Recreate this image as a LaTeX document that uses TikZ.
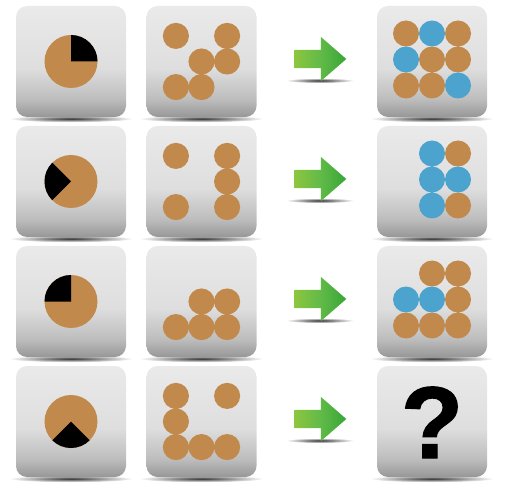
\documentclass[tikz,border=0pt]{standalone}
\usepackage{fontspec}
\newfontfamily\qfont{Liberation Sans}[BoldFeatures={FakeBold=1.2}]
\usetikzlibrary{shapes.arrows,backgrounds}
\definecolor{brn}{HTML}{C1894B}
\definecolor{blu}{HTML}{4CA4CE}
\definecolor{ttop}{HTML}{EAEAEA}
\definecolor{tmid}{HTML}{DEDEDE}
\definecolor{tlow}{HTML}{BDBDBD}
\definecolor{tbot}{HTML}{979797}
\definecolor{agl}{HTML}{8DC63F}
\definecolor{agm}{HTML}{62BA48}
\definecolor{agr}{HTML}{37A636}
\pgfdeclareverticalshading{tileshade}{100bp}{color(0bp)=(tbot); color(25bp)=(tbot); color(33bp)=(tlow); color(47bp)=(tmid); color(75bp)=(ttop); color(100bp)=(ttop)}
\begin{document}
\begin{tikzpicture}[x=1pt,y=1pt,
        tile/.style={rectangle,rounded corners=11pt,minimum width=110pt,minimum height=111pt,inner sep=0pt,shade,shading=tileshade},
        nxt/.style={single arrow,single arrow head extend=13pt,single arrow tip angle=82,minimum height=52pt,inner xsep=0pt,inner ysep=9pt,left color=agl,right color=agr,middle color=agm},
        dropshade/.style={inner color=black!80,outer color=white}]
\useasboundingbox (0,0) rectangle (508,493);
\node[tile] (p1) at (71,431.5) {};\node[tile] (d1) at (201.5,431.5) {};\node[nxt] (a1) at (315,434) {};\node[tile] (r1) at (432,431.5) {};
\node[tile] (p2) at (71,311.5) {};\node[tile] (d2) at (201.5,311.5) {};\node[nxt] (a2) at (315,314) {};\node[tile] (r2) at (432,311.5) {};
\node[tile] (p3) at (71,191.5) {};\node[tile] (d3) at (201.5,191.5) {};\node[nxt] (a3) at (315,194) {};\node[tile] (r3) at (432,191.5) {};
\node[tile] (p4) at (71,71.5) {};\node[tile] (d4) at (201.5,71.5) {};\node[nxt] (a4) at (315,74) {};\node[tile] (r4) at (432,71.5) {};
\begin{scope}[on background layer]
        \foreach \t in {p1,d1,r1,p2,d2,r2,p3,d3,r3,p4,d4,r4} \shade[dropshade] ([yshift=-1.5pt]\t.south) ellipse (62 and 3.5);
        \foreach \t in {a1,a2,a3,a4} \shade[dropshade] ([xshift=5pt,yshift=-21.5pt]\t.center) ellipse (34 and 2.5);
\end{scope}
\begin{scope}[shift={(p1)}]\fill[brn] (0,0) circle (26.5);\fill (0,0) -- (0:26.5) arc (0:90:26.5) -- cycle;\end{scope}
\begin{scope}[shift={(p2)}]\fill[brn] (0,0) circle (26.5);\fill (0,0) -- (135:26.5) arc (135:225:26.5) -- cycle;\end{scope}
\begin{scope}[shift={(p3)}]\fill[brn] (0,0) circle (26.5);\fill (0,0) -- (90:26.5) arc (90:180:26.5) -- cycle;\end{scope}
\begin{scope}[shift={(p4)}]\fill[brn] (0,0) circle (26.5);\fill (0,0) -- (225:26.5) arc (225:315:26.5) -- cycle;\end{scope}
\begin{scope}[shift={(d1)},x=25.6pt,y=25.6pt]\fill[brn] (-1,1) circle (.51) (1,1) circle (.51) (0,0) circle (.51) (1,0) circle (.51) (-1,-1) circle (.51) (0,-1) circle (.51);\end{scope}
\begin{scope}[shift={(d2)},x=25.6pt,y=25.6pt]\fill[brn] (-1,1) circle (.51) (1,1) circle (.51) (1,0) circle (.51) (-1,-1) circle (.51) (1,-1) circle (.51);\end{scope}
\begin{scope}[shift={(d3)},x=25.6pt,y=25.6pt]\fill[brn] (0,0) circle (.51) (1,0) circle (.51) (-1,-1) circle (.51) (0,-1) circle (.51) (1,-1) circle (.51);\end{scope}
\begin{scope}[shift={(d4)},x=25.6pt,y=25.6pt]\fill[brn] (-1,1) circle (.51) (1,1) circle (.51) (-1,0) circle (.51) (-1,-1) circle (.51) (0,-1) circle (.51) (1,-1) circle (.51);\end{scope}
\begin{scope}[shift={(r1)},yshift=2pt,x=26pt,y=26pt]\fill[brn] (-1,1) circle (.5) (1,1) circle (.5) (0,0) circle (.5) (1,0) circle (.5) (-1,-1) circle (.5) (0,-1) circle (.5);
        \fill[blu] (0,1) circle (.5) (-1,0) circle (.5) (1,-1) circle (.5);\end{scope}
\begin{scope}[shift={(r2)},yshift=2pt,x=26pt,y=26pt]\fill[brn] (1,1) circle (.5) (1,-1) circle (.5);
        \fill[blu] (0,1) circle (.5) (0,0) circle (.5) (1,0) circle (.5) (0,-1) circle (.5);\end{scope}
\begin{scope}[shift={(r3)},yshift=2pt,x=26pt,y=26pt]\fill[brn] (0,1) circle (.5) (1,1) circle (.5) (1,0) circle (.5) (-1,-1) circle (.5) (0,-1) circle (.5) (1,-1) circle (.5);
        \fill[blu] (-1,0) circle (.5) (0,0) circle (.5);\end{scope}
\node[font=\qfont\bfseries\fontsize{102}{102}\selectfont,anchor=base,inner sep=0pt] (qm) at ([yshift=-36.5pt]r4.center) {?};
\end{tikzpicture}
\end{document}
